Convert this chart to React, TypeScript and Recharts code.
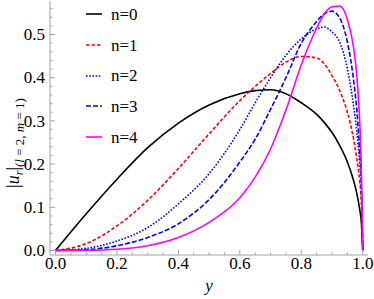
import { Legend, Line, LineChart, XAxis, YAxis } from 'recharts'

const SERIF = "'Liberation Serif', 'Times New Roman', serif"
const FRAME = '#a3a3a3'

// sample positions along y
const yGrid = [0, 0.1, 0.2, 0.3, 0.4, 0.5, 0.6, 0.65, 0.7, 0.75, 0.8, 0.85, 0.875, 0.9, 0.925, 0.95, 0.97, 0.98, 0.99, 0.995, 1]

const n0 = [0, 0.085, 0.165, 0.238, 0.295, 0.337, 0.363, 0.37, 0.372, 0.363, 0.342, 0.315, 0.296, 0.273, 0.243, 0.205, 0.162, 0.134, 0.095, 0.067, 0]
const n1 = [0, 0.016, 0.057, 0.116, 0.19, 0.27, 0.347, 0.38, 0.41, 0.436, 0.449, 0.446, 0.432, 0.405, 0.37, 0.32, 0.258, 0.215, 0.16, 0.115, 0]
const n2 = [0, 0.005, 0.022, 0.053, 0.108, 0.178, 0.28, 0.342, 0.4, 0.452, 0.49, 0.513, 0.517, 0.506, 0.482, 0.42, 0.335, 0.28, 0.2, 0.15, 0]
const n3 = [0, 0.002, 0.011, 0.03, 0.062, 0.118, 0.205, 0.258, 0.327, 0.4, 0.48, 0.53, 0.548, 0.554, 0.538, 0.482, 0.395, 0.33, 0.23, 0.165, 0]
const n4 = [0, 0.0005, 0.003, 0.011, 0.03, 0.065, 0.122, 0.17, 0.235, 0.325, 0.43, 0.515, 0.548, 0.564, 0.566, 0.535, 0.47, 0.41, 0.3, 0.2, 0]

const xMajor = [0, 0.2, 0.4, 0.6, 0.8, 1]
const xMinor = [0.05, 0.1, 0.15, 0.25, 0.3, 0.35, 0.45, 0.5, 0.55, 0.65, 0.7, 0.75, 0.85, 0.9, 0.95]
const vMajor = [0, 0.1, 0.2, 0.3, 0.4, 0.5]
const vMinor = [0.02, 0.04, 0.06, 0.08, 0.12, 0.14, 0.16, 0.18, 0.22, 0.24, 0.26, 0.28, 0.32, 0.34, 0.36, 0.38, 0.42, 0.44, 0.46, 0.48, 0.52, 0.54, 0.56]

const SERIES = [
  { key: 'n0', name: 'n=0', color: '#000000', dash: undefined },
  { key: 'n1', name: 'n=1', color: '#ff0000', dash: '3.5 2' },
  { key: 'n2', name: 'n=2', color: '#0000ff', dash: '1.6 1.6' },
  { key: 'n3', name: 'n=3', color: '#0000ff', dash: '5 2' },
  { key: 'n4', name: 'n=4', color: '#ff00ff', dash: undefined },
]

const data = yGrid.map((x, i) => ({ x, n0: n0[i], n1: n1[i], n2: n2[i], n3: n3[i], n4: n4[i] }))

const X_DOMAIN = [-0.018, 1.017]
const V_DOMAIN = [-0.0104, 0.5775]

const bottomTick = (props: any) => {
  const { x, y, payload } = props
  const major = xMajor.includes(payload.value)
  return (
    <g>
      <line x1={x} y1={y} x2={x} y2={y - (major ? 5 : 2.5)} stroke={FRAME} />
      {major && (
        <text x={x} y={y + 13.5} textAnchor="middle" style={{ fontFamily: SERIF }} fontSize={17} fill="#000">
          {payload.value.toFixed(1)}
        </text>
      )}
    </g>
  )
}

const topTick = (props: any) => {
  const { x, y, payload } = props
  const major = xMajor.includes(payload.value)
  return <line x1={x} y1={y} x2={x} y2={y + (major ? 5 : 2.5)} stroke={FRAME} />
}

const leftTick = (props: any) => {
  const { x, y, payload } = props
  const major = vMajor.includes(payload.value)
  return (
    <g>
      <line x1={x} y1={y} x2={x + (major ? 5 : 2.5)} y2={y} stroke={FRAME} />
      {major && (
        <text x={x - 5} y={y} dy="0.33em" textAnchor="end" style={{ fontFamily: SERIF }} fontSize={17} fill="#000">
          {payload.value.toFixed(1)}
        </text>
      )}
    </g>
  )
}

const rightTick = (props: any) => {
  const { x, y, payload } = props
  const major = vMajor.includes(payload.value)
  return <line x1={x} y1={y} x2={x - (major ? 5 : 2.5)} y2={y} stroke={FRAME} />
}

const xLabel = (props: any) => {
  const { viewBox } = props
  return (
    <text x={viewBox.x + viewBox.width / 2} y={291} textAnchor="middle" style={{ fontFamily: SERIF }} fontSize={17} fontStyle="italic">
      y
    </text>
  )
}

const yLabel = () => (
  <text transform="translate(19,143) rotate(-90)" textAnchor="middle" style={{ fontFamily: SERIF }} fill="#000">
    <tspan fontSize={18}>|</tspan>
    <tspan fontSize={18} fontStyle="italic">u</tspan>
    <tspan fontSize={12} fontStyle="italic" dy={4}>r</tspan>
    <tspan fontSize={18} dy={-4}>|</tspan>
    <tspan fontSize={13} dy={5}>(</tspan>
    <tspan fontSize={13} fontStyle="italic">l</tspan>
    <tspan fontSize={13}> = 2, </tspan>
    <tspan fontSize={13} fontStyle="italic">m</tspan>
    <tspan fontSize={13}> = 1)</tspan>
  </text>
)

const renderLegend = () => (
  <div style={{ fontFamily: SERIF, fontSize: 17, color: '#000' }}>
    {SERIES.map((s) => (
      <div key={s.key} style={{ display: 'flex', alignItems: 'center', height: 30.7 }}>
        <svg width={16} height={4}>
          <line x1={0} y1={2} x2={16} y2={2} stroke={s.color} strokeWidth={1.6} strokeDasharray={s.dash} />
        </svg>
        <span style={{ marginLeft: 9, lineHeight: 1 }}>{s.name}</span>
      </div>
    ))}
  </div>
)

export default function App() {
  return (
    <div style={{ position: 'absolute', left: 0, top: 0, background: '#fff', fontFamily: SERIF }}>
      <LineChart width={374} height={299} data={data} margin={{ top: 1, right: 6, left: 0, bottom: 0 }}>
        <XAxis
          xAxisId="b"
          dataKey="x"
          type="number"
          domain={X_DOMAIN}
          allowDataOverflow
          ticks={[...xMajor, ...xMinor]}
          interval={0}
          tick={bottomTick}
          tickLine={false}
          tickSize={0}
          tickMargin={0}
          axisLine={{ stroke: FRAME }}
          height={44}
          label={xLabel}
        />
        <XAxis
          xAxisId="t"
          orientation="top"
          dataKey="x"
          type="number"
          domain={X_DOMAIN}
          allowDataOverflow
          ticks={[...xMajor, ...xMinor]}
          interval={0}
          tick={topTick}
          tickLine={false}
          tickSize={0}
          tickMargin={0}
          axisLine={{ stroke: FRAME }}
          height={0}
        />
        <YAxis
          yAxisId="l"
          type="number"
          domain={V_DOMAIN}
          allowDataOverflow
          ticks={[...vMajor, ...vMinor]}
          interval={0}
          tick={leftTick}
          tickLine={false}
          tickSize={0}
          tickMargin={0}
          axisLine={{ stroke: FRAME }}
          width={50}
          label={yLabel}
        />
        <YAxis
          yAxisId="r"
          orientation="right"
          type="number"
          domain={V_DOMAIN}
          allowDataOverflow
          ticks={[...vMajor, ...vMinor]}
          interval={0}
          tick={rightTick}
          tickLine={false}
          tickSize={0}
          tickMargin={0}
          axisLine={{ stroke: FRAME }}
          width={0}
        />
        <Legend
          layout="vertical"
          align="center"
          verticalAlign="middle"
          content={renderLegend}
          wrapperStyle={{ left: 86, top: -1, width: 'auto', height: 'auto' }}
        />
        {SERIES.map((s) => (
          <Line
            key={s.key}
            xAxisId="b"
            yAxisId="l"
            dataKey={s.key}
            name={s.name}
            type="monotone"
            stroke={s.color}
            strokeWidth={1.6}
            strokeDasharray={s.dash}
            dot={false}
            activeDot={false}
            isAnimationActive={false}
          />
        ))}
      </LineChart>
    </div>
  )
}
